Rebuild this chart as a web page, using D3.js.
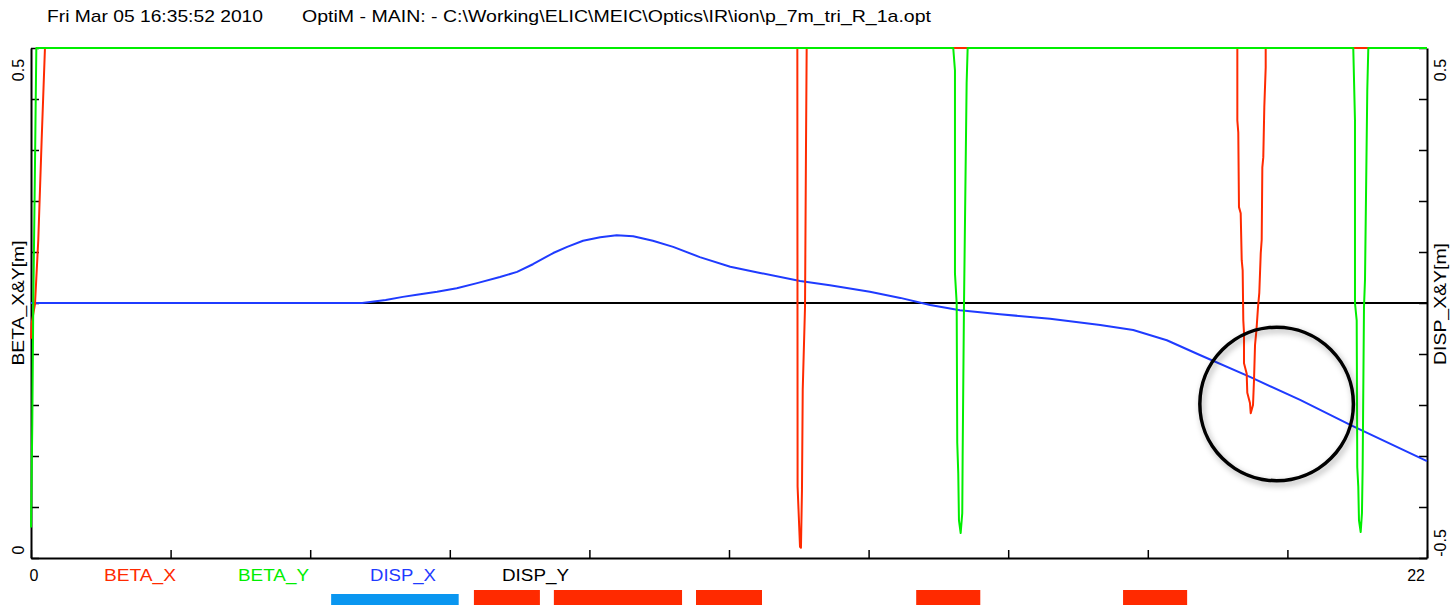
<!DOCTYPE html>
<html>
<head>
<meta charset="utf-8">
<script src="https://cdn.jsdelivr.net/npm/d3@7"></script>
<style>
  html, body { margin: 0; padding: 0; background: #fff; }
  svg { display: block; }
  text { font-family: "Liberation Sans", Arial, sans-serif; }
</style>
</head>
<body>
<svg id="chart" width="1453" height="605"></svg>
<script>
// ---------------- DATA ----------------
const titleDate = "Fri Mar 05 16:35:52 2010";
const titleFile = "OptiM - MAIN: - C:\\Working\\ELIC\\MEIC\\Optics\\IR\\ion\\p_7m_tri_R_1a.opt";

const sDomain = [0, 22];
const betaDomain = [0, 0.5];
const dispDomain = [-0.5, 0.5];
const xTickLabels = ["0", "22"];
const betaTickLabels = ["0", "0.5"];
const dispTickLabels = ["-0.5", "0.5"];
const leftAxisTitle = "BETA_X&Y[m]";
const rightAxisTitle = "DISP_X&Y[m]";
const legendNames = ["BETA_X", "BETA_Y", "DISP_X", "DISP_Y"];

// [s (m), beta (m)] ; values above 0.5 are off scale (plotter clips them to the top edge)
const betaX = [
  [0, 0.215], [0.01, 0.23], [0.063, 0.249], [0.115, 0.312], [0.168, 0.41], [0.22, 0.5], [1, 1.0],
  [12.0, 1.0], [12.077, 0.5], [12.081, 0.07], [12.119, 0.011], [12.134, 0.010], [12.15, 0.067],
  [12.162, 0.165], [12.198, 0.246], [12.213, 0.40], [12.224, 0.5], [12.3, 1.0],
  [18.9, 1.0], [19.011, 0.5], [19.011, 0.429], [19.026, 0.417], [19.037, 0.344], [19.064, 0.338],
  [19.080, 0.292], [19.095, 0.282], [19.105, 0.233], [19.116, 0.221], [19.116, 0.191], [19.158, 0.181],
  [19.168, 0.162], [19.210, 0.152], [19.222, 0.142], [19.258, 0.150], [19.274, 0.175], [19.290, 0.209],
  [19.313, 0.224], [19.337, 0.246], [19.357, 0.260], [19.380, 0.299], [19.395, 0.312], [19.405, 0.383],
  [19.420, 0.393], [19.436, 0.442], [19.458, 0.481], [19.458, 0.5], [19.6, 1.0], [22, 1.0]
];
const betaY = [
  [0, 0.03], [0.02, 0.13], [0.036, 0.25], [0.06, 0.37], [0.084, 0.5], [0.2, 1.0],
  [14.45, 1.0], [14.534, 0.5], [14.561, 0.478], [14.561, 0.279], [14.588, 0.25], [14.597, 0.113],
  [14.613, 0.083], [14.624, 0.037], [14.651, 0.0245], [14.676, 0.044], [14.682, 0.099], [14.703, 0.246],
  [14.745, 0.466], [14.761, 0.5], [14.85, 1.0],
  [20.75, 1.0], [20.838, 0.5], [20.865, 0.429], [20.865, 0.25], [20.892, 0.233], [20.901, 0.089],
  [20.917, 0.070], [20.928, 0.037], [20.955, 0.0255], [20.975, 0.044], [20.986, 0.089], [21.007, 0.246],
  [21.023, 0.273], [21.059, 0.459], [21.075, 0.5], [21.2, 1.0], [22, 1.0]
];
// [s (m), dispersion (m)]
const dispX = [
  [0, 0], [5.22, 0], [5.59, 0.006], [5.86, 0.012], [6.08, 0.016], [6.40, 0.022], [6.71, 0.029],
  [7.03, 0.039], [7.39, 0.051], [7.66, 0.061], [7.91, 0.076], [8.23, 0.098], [8.45, 0.110],
  [8.70, 0.122], [8.97, 0.129], [9.23, 0.133], [9.49, 0.131], [9.80, 0.122], [10.12, 0.110],
  [10.54, 0.090], [11.02, 0.071], [11.49, 0.059], [12.12, 0.043], [12.59, 0.035], [13.22, 0.022],
  [13.70, 0.010], [14.17, -0.004], [14.64, -0.014], [15.27, -0.022], [16.06, -0.031], [16.85, -0.043],
  [17.37, -0.053], [17.90, -0.073], [18.42, -0.102], [19.21, -0.145], [20.00, -0.190], [20.79, -0.239],
  [22.00, -0.310]
];
const dispY = [[0, 0], [22, 0]];

// lattice elements [s start, s end]
const dipoles = [[4.73, 6.74]];
const quads = [[6.98, 8.02], [8.24, 10.26], [10.48, 11.52], [13.95, 14.96], [17.21, 18.22]];

// highlight circle annotation: centre (s, disp), radius in s units
const markCenter = [19.63, -0.198];
const markRadiusS = 1.21;

// ---------------- LAYOUT ----------------
const svg = d3.select("#chart");
const L = 31, R = 1427, T = 48, B = 558;
const x = d3.scaleLinear(sDomain, [L, R]);
const yL = d3.scaleLinear(betaDomain, [B, T]);
const yR = d3.scaleLinear(dispDomain, [B, T]);

const C = { red: "#ff2a00", green: "#00ee00", blue: "#1f3bff", black: "#000",
            elBlue: "#0a96f0", elRed: "#ff2a00" };

const defs = svg.append("defs");
const f = defs.append("filter").attr("id", "shadow").attr("x", "-20%").attr("y", "-20%")
  .attr("width", "140%").attr("height", "140%");
f.append("feDropShadow").attr("dx", 2).attr("dy", 3).attr("stdDeviation", 3)
  .attr("flood-color", "#000").attr("flood-opacity", 0.35);

// title
svg.append("text").attr("x", 47).attr("y", 22).attr("font-size", 17)
  .attr("textLength", 216).attr("lengthAdjust", "spacingAndGlyphs").text(titleDate);
svg.append("text").attr("x", 302).attr("y", 22).attr("font-size", 17)
  .attr("textLength", 629).attr("lengthAdjust", "spacingAndGlyphs").text(titleFile);

// axes
const axG = svg.append("g");
const leftAxis = d3.axisRight(yL).tickValues(d3.range(0, 0.5001, 0.05)).tickSize(8).tickSizeOuter(0).tickFormat("");
const rightAxis = d3.axisLeft(yR).tickValues(d3.range(-0.5, 0.5001, 0.1)).tickSize(8).tickSizeOuter(0).tickFormat("");
const bottomAxis = d3.axisTop(x).tickValues(d3.range(0, 22.001, 2.2)).tickSize(8).tickSizeOuter(0).tickFormat("");
axG.append("g").attr("transform", `translate(${L},0)`).call(leftAxis);
axG.append("g").attr("transform", `translate(${R},0)`).call(rightAxis);
axG.append("g").attr("transform", `translate(0,${B})`).call(bottomAxis);
axG.selectAll("path.domain").attr("stroke", "#000").attr("stroke-width", 2);
axG.selectAll(".tick line").attr("stroke", "#000").attr("stroke-width", 1.5);

// tick labels
svg.append("text").attr("x", x(+xTickLabels[0]) + 3).attr("y", 581).attr("font-size", 16)
  .attr("text-anchor", "middle").text(xTickLabels[0]);
svg.append("text").attr("x", x(+xTickLabels[1]) - 2).attr("y", 581).attr("font-size", 16)
  .attr("text-anchor", "end").text(xTickLabels[1]);
svg.append("text").attr("transform", `translate(24,${yL(+betaTickLabels[0]) - 8}) rotate(-90)`)
  .attr("font-size", 16).attr("text-anchor", "middle").text(betaTickLabels[0]);
svg.append("text").attr("transform", `translate(24,${yL(+betaTickLabels[1]) + 22}) rotate(-90)`)
  .attr("font-size", 16).attr("text-anchor", "middle").text(betaTickLabels[1]);
svg.append("text").attr("transform", `translate(1446,${yR(+dispTickLabels[0]) - 15}) rotate(-90)`)
  .attr("font-size", 16).attr("text-anchor", "middle").text(dispTickLabels[0]);
svg.append("text").attr("transform", `translate(1446,${yR(+dispTickLabels[1]) + 22}) rotate(-90)`)
  .attr("font-size", 16).attr("text-anchor", "middle").text(dispTickLabels[1]);
svg.append("text").attr("transform", `translate(24,303) rotate(-90)`).attr("font-size", 16)
  .attr("text-anchor", "middle").attr("textLength", 125).attr("lengthAdjust", "spacingAndGlyphs")
  .text(leftAxisTitle);
svg.append("text").attr("transform", `translate(1446,304) rotate(-90)`).attr("font-size", 16)
  .attr("text-anchor", "middle").attr("textLength", 122).attr("lengthAdjust", "spacingAndGlyphs")
  .text(rightAxisTitle);

// legend
const legX = [104, 238, 370, 502], legW = [72, 71, 66, 67];
const legC = [C.red, C.green, C.blue, C.black];
legendNames.forEach((n, i) => {
  svg.append("text").attr("x", legX[i]).attr("y", 581).attr("font-size", 16)
    .attr("fill", legC[i]).attr("textLength", legW[i]).attr("lengthAdjust", "spacingAndGlyphs").text(n);
});

// lattice elements
svg.append("g").selectAll("rect").data(dipoles).join("rect")
  .attr("x", d => x(d[0])).attr("width", d => x(d[1]) - x(d[0]))
  .attr("y", 594).attr("height", 20).attr("fill", C.elBlue);
svg.append("g").selectAll("rect").data(quads).join("rect")
  .attr("x", d => x(d[0])).attr("width", d => x(d[1]) - x(d[0]))
  .attr("y", 590).attr("height", 20).attr("fill", C.elRed);

// curves
const clampB = v => Math.max(betaDomain[0], Math.min(betaDomain[1], v));
const lineBeta = d3.line().x(d => x(d[0])).y(d => yL(clampB(d[1])));
const lineDisp = d3.line().x(d => x(d[0])).y(d => yR(d[1]));
const cg = svg.append("g").attr("fill", "none").attr("stroke-linejoin", "round");
cg.append("path").datum(dispY).attr("d", lineDisp).attr("stroke", C.black).attr("stroke-width", 2);
cg.append("path").datum(dispX).attr("d", lineDisp).attr("stroke", C.blue).attr("stroke-width", 2);
cg.append("path").datum(betaX).attr("d", lineBeta).attr("stroke", C.red).attr("stroke-width", 2);
cg.append("path").datum(betaY).attr("d", lineBeta).attr("stroke", C.green).attr("stroke-width", 2);

// highlight circle
svg.append("circle").attr("cx", x(markCenter[0])).attr("cy", yR(markCenter[1]))
  .attr("r", x(markRadiusS) - x(0)).attr("fill", "none").attr("stroke", "#000")
  .attr("stroke-width", 3.5).attr("filter", "url(#shadow)");
</script>
</body>
</html>
